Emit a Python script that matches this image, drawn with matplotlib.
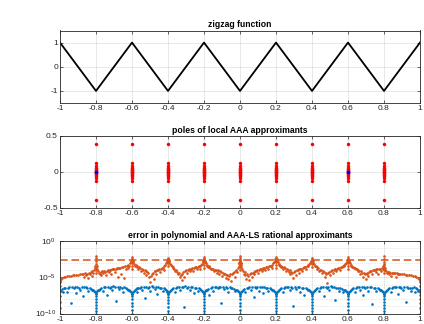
import numpy as np
import matplotlib
matplotlib.use("Agg")
import matplotlib.pyplot as plt
from matplotlib.ticker import NullFormatter

plt.rcParams['font.family'] = ['Liberation Sans', 'DejaVu Sans']
plt.rcParams['axes.unicode_minus'] = False
plt.rcParams['mathtext.default'] = 'regular'

# zigzag vertices
zig_x = [-1, -0.8, -0.6, -0.4, -0.2, 0, 0.2, 0.4, 0.6, 0.8, 1]
zig_y = [1, -1, 1, -1, 1, -1, 1, -1, 1, -1, 1]

# poles: kink locations and imaginary parts
kinks = [-0.8, -0.6, -0.4, -0.2, 0, 0.2, 0.4, 0.6, 0.8]
pole_imag = [0.39, 0.12, 0.085, 0.06, 0.04, 0.025, 0.012, 0.004,
             -0.004, -0.012, -0.025, -0.04, -0.06, -0.085, -0.12, -0.39]
real_pole_x = [-0.8, 0.6]
real_pole_y = [0, 0]

# polynomial error (log10), orange dots
poly_x = [
    -1.0, -1.0, -1.0, -1.0, -1.0, -1.0, -1.0, -0.998, -0.995, -0.99,
    -0.98, -0.97, -0.96, -0.95, -0.94, -0.93, -0.92, -0.91, -0.90, -0.89,
    -0.88, -0.87, -0.865, -0.86, -0.855, -0.85, -0.845, -0.84, -0.835, -0.83,
    -0.825, -0.82, -0.815, -0.81, -0.807, -0.804, -0.8, -0.8, -0.8, -0.8,
    -0.8, -0.8, -0.8, -0.796, -0.793, -0.79, -0.785, -0.78, -0.775, -0.77,
    -0.765, -0.76, -0.755, -0.75, -0.745, -0.74, -0.735, -0.73, -0.725, -0.72,
    -0.715, -0.71, -0.705, -0.70, -0.695, -0.69, -0.685, -0.68, -0.675, -0.67,
    -0.665, -0.66, -0.655, -0.65, -0.645, -0.64, -0.635, -0.63, -0.625, -0.62,
    -0.615, -0.612, -0.608, -0.605, -0.602, -0.6, -0.6, -0.6, -0.6, -0.6,
    -0.598, -0.595, -0.592, -0.588, -0.585, -0.58, -0.575, -0.57, -0.565, -0.56,
    -0.555, -0.55, -0.545, -0.54, -0.535, -0.53, -0.525, -0.52, -0.515, -0.51,
    -0.505, -0.50, -0.495, -0.49, -0.485, -0.48, -0.475, -0.47, -0.465, -0.46,
    -0.455, -0.45, -0.445, -0.44, -0.435, -0.43, -0.425, -0.42, -0.415, -0.41,
    -0.407, -0.404, -0.402, -0.4, -0.4, -0.4, -0.4, -0.398, -0.396, -0.393,
    -0.39, -0.385, -0.38, -0.375, -0.37, -0.365, -0.36, -0.355, -0.35, -0.345,
    -0.34, -0.335, -0.33, -0.325, -0.32, -0.315, -0.31, -0.305, -0.30, -0.295,
    -0.29, -0.285, -0.28, -0.275, -0.27, -0.265, -0.26, -0.255, -0.25, -0.245,
    -0.24, -0.235, -0.23, -0.225, -0.22, -0.215, -0.21, -0.207, -0.204, -0.202,
    -0.2, -0.2, -0.2, -0.2, -0.2, -0.198, -0.196, -0.193, -0.19, -0.186,
    -0.182, -0.178, -0.174, -0.17, -0.165, -0.16, -0.155, -0.15, -0.145, -0.14,
    -0.135, -0.13, -0.125, -0.12, -0.115, -0.11, -0.105, -0.10, -0.095, -0.09,
    -0.085, -0.08, -0.075, -0.07, -0.065, -0.06, -0.055, -0.05, -0.045, -0.04,
    -0.035, -0.03, -0.025, -0.02, -0.015, -0.01, -0.007, -0.004, -0.002, 0.0,
    0.0, 0.0, 0.0, 0.0, 0.0, -0.005, 0.005, -0.003, 0.003, 0.002,
    0.004, 0.007, 0.01, 0.015, 0.02, 0.025, 0.03, 0.035, 0.04, 0.045,
    0.05, 0.055, 0.06, 0.065, 0.07, 0.075, 0.08, 0.085, 0.09, 0.095,
    0.10, 0.105, 0.11, 0.115, 0.12, 0.125, 0.13, 0.135, 0.14, 0.145,
    0.15, 0.155, 0.16, 0.165, 0.17, 0.175, 0.18, 0.185, 0.19, 0.194,
    0.197, 0.2, 0.2, 0.2, 0.2, 0.2, 0.203, 0.206, 0.21, 0.214,
    0.218, 0.222, 0.226, 0.23, 0.235, 0.24, 0.245, 0.25, 0.255, 0.26,
    0.265, 0.27, 0.275, 0.28, 0.285, 0.29, 0.295, 0.30, 0.305, 0.31,
    0.315, 0.32, 0.325, 0.33, 0.335, 0.34, 0.345, 0.35, 0.355, 0.36,
    0.365, 0.37, 0.375, 0.38, 0.385, 0.39, 0.393, 0.396, 0.398, 0.4,
    0.4, 0.4, 0.4, 0.402, 0.404, 0.407, 0.41, 0.415, 0.42, 0.425,
    0.43, 0.435, 0.44, 0.445, 0.45, 0.455, 0.46, 0.465, 0.47, 0.475,
    0.48, 0.485, 0.49, 0.495, 0.50, 0.505, 0.51, 0.515, 0.52, 0.525,
    0.53, 0.535, 0.54, 0.545, 0.55, 0.555, 0.56, 0.565, 0.57, 0.575,
    0.58, 0.585, 0.59, 0.593, 0.596, 0.598, 0.6, 0.6, 0.6, 0.6,
    0.6, 0.602, 0.604, 0.607, 0.61, 0.614, 0.618, 0.623, 0.628, 0.633,
    0.638, 0.643, 0.648, 0.653, 0.658, 0.663, 0.668, 0.673, 0.678, 0.683,
    0.688, 0.693, 0.698, 0.703, 0.708, 0.713, 0.718, 0.723, 0.728, 0.733,
    0.738, 0.743, 0.748, 0.753, 0.758, 0.763, 0.768, 0.773, 0.778, 0.783,
    0.788, 0.792, 0.795, 0.798, 0.8, 0.8, 0.8, 0.8, 0.8, 0.8,
    0.8, 0.803, 0.806, 0.81, 0.815, 0.82, 0.825, 0.83, 0.835, 0.84,
    0.845, 0.85, 0.855, 0.86, 0.865, 0.87, 0.875, 0.88, 0.885, 0.89,
    0.90, 0.91, 0.92, 0.93, 0.94, 0.95, 0.96, 0.97, 0.98, 0.99,
    0.995, 0.998, 1.0, 1.0, 1.0, 1.0, 1.0, 1.0, 1.0, 1.0,
]
poly_lg = [
    -10, -9.2, -8.4, -7.6, -6.8, -6.2, -5.7, -5.45, -5.3, -5.15,
    -5.0, -4.95, -4.88, -4.82, -4.78, -4.74, -4.71, -4.68, -4.65, -4.62,
    -4.6, -4.55, -5.0, -4.45, -4.75, -4.5, -5.1, -4.35, -4.6, -4.25,
    -4.85, -4.15, -4.45, -3.95, -3.7, -3.4, -2.05, -2.4, -2.8, -3.2,
    -3.6, -4.0, -4.4, -3.5, -3.8, -4.1, -4.35, -4.6, -4.3, -4.75,
    -4.2, -4.45, -4.15, -4.25, -4.65, -4.1, -4.05, -4.3, -4.0, -3.95,
    -4.5, -3.9, -3.88, -3.85, -4.25, -3.8, -3.78, -3.75, -4.9, -3.7,
    -3.68, -4.6, -3.6, -3.55, -5.1, -3.5, -3.9, -3.4, -3.7, -3.25,
    -3.4, -3.1, -2.9, -2.7, -2.45, -2.2, -2.6, -3.0, -3.4, -3.8,
    -2.5, -2.7, -2.95, -3.15, -3.4, -3.3, -3.55, -3.5, -3.9, -3.65,
    -3.75, -4.2, -3.85, -3.95, -4.4, -4.05, -4.15, -4.7, -4.3, -4.45,
    -5.0, -5.6, -4.8, -4.55, -4.35, -5.2, -4.2, -4.1, -4.5, -4.0,
    -3.95, -3.9, -4.3, -3.8, -3.75, -3.7, -4.0, -3.5, -3.3, -3.1,
    -2.95, -2.75, -2.55, -2.3, -2.7, -3.1, -3.5, -2.55, -2.75, -2.95,
    -3.15, -3.35, -3.5, -3.7, -3.6, -3.85, -4.1, -3.95, -4.3, -4.6,
    -4.4, -5.0, -4.75, -5.4, -4.5, -4.3, -4.9, -4.15, -4.05, -4.4,
    -3.95, -3.9, -4.2, -3.85, -3.8, -3.75, -4.1, -3.7, -3.65, -3.6,
    -3.9, -3.55, -3.5, -3.45, -3.8, -3.3, -3.15, -2.9, -2.7, -2.45,
    -2.15, -2.55, -2.95, -3.35, -3.75, -2.45, -2.7, -2.9, -3.1, -3.3,
    -3.4, -3.55, -3.5, -3.65, -3.7, -3.85, -3.8, -3.9, -4.2, -3.95,
    -4.0, -4.4, -4.05, -4.1, -4.6, -4.2, -4.3, -4.8, -4.35, -4.5,
    -4.55, -5.1, -4.7, -4.75, -5.3, -4.85, -4.6, -5.5, -4.5, -4.4,
    -4.25, -4.9, -4.1, -3.95, -4.3, -3.7, -3.4, -3.0, -2.6, -2.05,
    -2.4, -2.8, -3.2, -3.6, -4.0, -3.1, -3.1, -3.1, -3.1, -2.6,
    -3.3, -3.6, -3.85, -4.1, -4.5, -4.3, -4.7, -5.2, -4.6, -4.8,
    -5.4, -4.6, -4.45, -5.0, -4.35, -4.25, -4.6, -4.15, -4.1, -4.05,
    -4.4, -3.95, -3.9, -3.85, -4.15, -3.8, -3.75, -3.7, -4.0, -3.6,
    -3.55, -3.85, -3.5, -3.45, -3.4, -3.7, -3.25, -3.1, -2.9, -2.7,
    -2.45, -2.15, -2.55, -2.95, -3.35, -3.75, -2.5, -2.75, -2.95, -3.2,
    -3.3, -3.45, -3.4, -3.55, -3.6, -3.9, -3.65, -3.75, -4.1, -3.85,
    -3.95, -4.3, -4.05, -4.6, -4.25, -4.4, -5.1, -4.3, -4.15, -4.7,
    -4.05, -4.0, -4.45, -3.9, -3.85, -3.8, -4.15, -3.7, -3.65, -3.6,
    -3.9, -3.5, -3.45, -3.35, -3.2, -3.05, -2.9, -2.75, -2.55, -2.35,
    -2.75, -3.15, -3.55, -2.6, -2.8, -3.0, -3.2, -3.4, -3.5, -3.65,
    -3.8, -3.75, -4.1, -3.95, -4.0, -4.4, -4.15, -4.25, -4.9, -4.35,
    -4.5, -5.8, -4.4, -4.3, -4.7, -4.1, -4.0, -4.45, -3.95, -3.9,
    -3.85, -4.2, -3.8, -3.75, -3.7, -4.05, -3.6, -3.55, -3.5, -3.4,
    -3.3, -3.15, -3.0, -2.85, -2.65, -2.45, -2.2, -2.6, -3.0, -3.4,
    -3.8, -2.5, -2.7, -2.9, -3.1, -3.3, -3.45, -3.6, -3.55, -3.7,
    -3.75, -3.9, -3.85, -4.2, -4.0, -4.1, -4.55, -4.2, -4.35, -5.0,
    -4.45, -4.6, -5.2, -4.5, -4.35, -4.8, -4.25, -4.15, -4.1, -4.5,
    -4.05, -4.0, -3.95, -4.3, -3.9, -3.85, -4.6, -3.8, -3.9, -4.2,
    -3.75, -3.9, -3.5, -3.2, -2.05, -2.45, -2.85, -3.25, -3.65, -4.05,
    -4.45, -3.7, -3.95, -4.2, -4.35, -4.25, -4.6, -4.3, -4.35, -4.8,
    -4.35, -4.4, -4.4, -4.45, -4.9, -4.45, -4.5, -4.5, -4.55, -4.55,
    -4.6, -4.62, -4.65, -4.7, -4.72, -4.75, -4.8, -4.88, -4.95, -5.1,
    -5.3, -5.45, -5.7, -6.2, -6.8, -7.4, -8.0, -8.6, -9.3, -10,
]
poly_max_lg = -2.65

# AAA-LS rational error (log10), blue dots
rat_x = [
    -0.995, -0.99, -0.985, -0.978, -0.97, -0.963, -0.955, -0.948, -0.94, -0.933,
    -0.925, -0.918, -0.91, -0.903, -0.895, -0.888, -0.88, -0.873, -0.865, -0.858,
    -0.85, -0.843, -0.835, -0.828, -0.82, -0.814, -0.809, -0.805, -0.802, -0.8,
    -0.8, -0.8, -0.8, -0.8, -0.8, -0.8, -0.798, -0.795, -0.79, -0.785,
    -0.778, -0.77, -0.763, -0.755, -0.748, -0.74, -0.733, -0.725, -0.718, -0.71,
    -0.703, -0.695, -0.688, -0.68, -0.673, -0.665, -0.658, -0.65, -0.643, -0.635,
    -0.628, -0.62, -0.614, -0.609, -0.605, -0.602, -0.6, -0.6, -0.6, -0.6,
    -0.6, -0.6, -0.598, -0.595, -0.59, -0.585, -0.58, -0.575, -0.57, -0.565,
    -0.558, -0.55, -0.543, -0.535, -0.528, -0.52, -0.513, -0.505, -0.498, -0.49,
    -0.483, -0.475, -0.468, -0.46, -0.453, -0.445, -0.438, -0.43, -0.423, -0.415,
    -0.41, -0.406, -0.403, -0.401, -0.4, -0.4, -0.4, -0.4, -0.4, -0.4,
    -0.398, -0.395, -0.39, -0.385, -0.378, -0.37, -0.363, -0.355, -0.348, -0.34,
    -0.333, -0.325, -0.318, -0.31, -0.303, -0.295, -0.288, -0.28, -0.273, -0.265,
    -0.258, -0.25, -0.243, -0.235, -0.228, -0.22, -0.214, -0.209, -0.205, -0.202,
    -0.2, -0.2, -0.2, -0.2, -0.2, -0.2, -0.2, -0.198, -0.195, -0.19,
    -0.185, -0.178, -0.17, -0.163, -0.155, -0.148, -0.14, -0.133, -0.125, -0.118,
    -0.11, -0.103, -0.095, -0.088, -0.08, -0.073, -0.065, -0.058, -0.05, -0.043,
    -0.035, -0.028, -0.02, -0.014, -0.009, -0.005, -0.002, 0.0, 0.0, 0.0,
    0.0, 0.0, 0.0, 0.002, 0.005, 0.01, 0.015, 0.022, 0.03, 0.037,
    0.045, 0.052, 0.06, 0.067, 0.075, 0.082, 0.09, 0.097, 0.105, 0.112,
    0.12, 0.127, 0.135, 0.142, 0.15, 0.157, 0.165, 0.172, 0.18, 0.186,
    0.191, 0.195, 0.198, 0.2, 0.2, 0.2, 0.2, 0.2, 0.2, 0.2,
    0.202, 0.205, 0.21, 0.215, 0.222, 0.23, 0.237, 0.245, 0.252, 0.26,
    0.267, 0.275, 0.282, 0.29, 0.297, 0.305, 0.312, 0.32, 0.327, 0.335,
    0.342, 0.35, 0.357, 0.365, 0.372, 0.38, 0.386, 0.391, 0.395, 0.398,
    0.4, 0.4, 0.4, 0.4, 0.4, 0.4, 0.4, 0.402, 0.405, 0.41,
    0.415, 0.422, 0.43, 0.437, 0.445, 0.452, 0.46, 0.467, 0.475, 0.482,
    0.49, 0.497, 0.505, 0.512, 0.52, 0.527, 0.535, 0.542, 0.55, 0.557,
    0.565, 0.572, 0.58, 0.586, 0.591, 0.595, 0.598, 0.6, 0.6, 0.6,
    0.6, 0.6, 0.6, 0.602, 0.605, 0.61, 0.615, 0.622, 0.63, 0.637,
    0.645, 0.652, 0.66, 0.667, 0.675, 0.682, 0.69, 0.697, 0.705, 0.712,
    0.72, 0.727, 0.735, 0.742, 0.75, 0.757, 0.765, 0.772, 0.78, 0.786,
    0.791, 0.795, 0.798, 0.8, 0.8, 0.8, 0.8, 0.8, 0.8, 0.8,
    0.802, 0.805, 0.81, 0.815, 0.822, 0.83, 0.837, 0.845, 0.852, 0.86,
    0.867, 0.875, 0.882, 0.89, 0.897, 0.905, 0.912, 0.92, 0.927, 0.935,
    0.942, 0.95, 0.957, 0.965, 0.972, 0.98, 0.985, 0.99, 0.995, 0.998,
]
rat_lg = [
    -6.9, -6.6, -7.0, -6.5, -6.45, -7.1, -6.5, -6.4, -8.6, -6.35,
    -6.55, -6.35, -7.2, -6.3, -6.45, -6.8, -6.3, -7.6, -6.4, -6.35,
    -6.5, -6.9, -6.45, -6.6, -6.7, -6.8, -6.9, -7.05, -7.3, -7.6,
    -8.0, -8.4, -8.8, -9.2, -9.6, -10, -7.2, -6.95, -6.8, -6.7,
    -6.6, -6.5, -6.95, -6.4, -6.35, -7.4, -6.3, -6.5, -6.3, -6.8,
    -6.25, -6.4, -8.3, -6.3, -6.6, -6.35, -6.45, -7.0, -6.4, -6.55,
    -6.6, -6.7, -6.8, -6.9, -7.05, -7.3, -7.6, -8.0, -8.5, -9.0,
    -9.5, -10, -7.25, -7.0, -6.85, -6.7, -6.65, -7.1, -6.55, -6.5,
    -6.45, -6.4, -6.8, -6.35, -7.9, -6.3, -6.5, -6.3, -6.9, -6.25,
    -6.35, -6.6, -6.3, -7.3, -6.4, -6.45, -6.5, -6.95, -6.55, -6.6,
    -6.75, -6.9, -7.1, -7.35, -7.7, -8.1, -8.6, -9.1, -9.6, -10,
    -7.3, -7.0, -6.85, -6.7, -6.6, -6.55, -7.0, -6.45, -6.4, -6.35,
    -6.8, -6.3, -6.4, -9.1, -6.25, -6.5, -6.3, -6.7, -6.35, -6.4,
    -7.2, -6.45, -6.5, -6.85, -6.55, -6.65, -6.75, -6.9, -7.05, -7.3,
    -7.6, -8.0, -8.4, -8.8, -9.2, -9.6, -10, -7.2, -6.95, -6.8,
    -6.7, -6.6, -7.5, -6.5, -6.4, -6.9, -6.35, -6.3, -6.55, -6.3,
    -6.4, -8.5, -6.3, -6.6, -6.35, -6.45, -7.0, -6.4, -6.5, -6.55,
    -6.6, -6.9, -6.7, -6.8, -6.9, -7.05, -7.3, -7.6, -8.0, -8.5,
    -9.0, -9.5, -10, -7.25, -7.0, -6.85, -6.7, -6.6, -7.1, -6.55,
    -6.45, -6.4, -6.8, -6.35, -7.7, -6.3, -6.45, -6.3, -6.9, -6.3,
    -6.35, -7.2, -6.4, -6.45, -6.5, -6.95, -6.55, -6.6, -6.7, -6.8,
    -6.9, -7.05, -7.3, -7.6, -8.0, -8.4, -8.8, -9.2, -9.6, -10,
    -7.25, -7.0, -6.85, -6.7, -6.6, -6.55, -7.1, -6.45, -6.4, -6.35,
    -6.3, -6.8, -6.3, -6.45, -8.9, -6.3, -6.6, -6.35, -6.4, -7.0,
    -6.45, -6.5, -7.4, -6.55, -6.6, -6.7, -6.8, -6.9, -7.05, -7.3,
    -7.6, -8.0, -8.4, -8.8, -9.2, -9.6, -10, -7.25, -7.0, -6.85,
    -6.7, -6.6, -6.55, -6.95, -6.45, -6.4, -6.35, -7.6, -6.3, -6.5,
    -6.3, -6.7, -6.25, -6.4, -6.35, -8.2, -6.45, -6.5, -6.85, -6.55,
    -6.6, -7.1, -6.7, -6.8, -6.9, -7.05, -7.3, -7.6, -8.0, -8.5,
    -9.0, -9.5, -10, -7.25, -7.0, -6.85, -6.7, -6.6, -6.55, -7.0,
    -6.45, -6.4, -6.35, -6.8, -6.3, -7.5, -6.3, -6.45, -6.3, -6.9,
    -6.35, -6.4, -8.7, -6.45, -6.5, -6.95, -6.55, -6.6, -6.7, -6.8,
    -6.9, -7.05, -7.3, -7.6, -8.0, -8.4, -8.8, -9.2, -9.6, -10,
    -7.25, -7.0, -6.85, -6.7, -6.6, -6.55, -7.0, -6.45, -6.4, -6.35,
    -6.3, -7.3, -6.4, -6.3, -6.45, -6.8, -6.35, -8.4, -6.4, -6.5,
    -6.45, -6.9, -6.5, -6.4, -7.1, -6.55, -6.6, -6.9, -6.7, -7.0,
]

xtick_vals = [-1, -0.8, -0.6, -0.4, -0.2, 0, 0.2, 0.4, 0.6, 0.8, 1]
xtick_labels = ['-1', '-0.8', '-0.6', '-0.4', '-0.2', '0', '0.2', '0.4', '0.6', '0.8', '1']

blue = '#0072BD'
orange = '#D95319'
dark = '#262626'


def style(ax):
    ax.set_xlim(-1, 1)
    ax.set_xticks(xtick_vals)
    ax.set_xticklabels(xtick_labels)
    ax.tick_params(direction='in', length=2.5, width=0.5, colors=dark,
                   labelsize=6, pad=1.5, top=True, right=True)
    ax.tick_params(which='minor', length=0)
    for s in ax.spines.values():
        s.set_linewidth(0.6)
        s.set_color(dark)
    ax.grid(True, color=dark, alpha=0.15, linewidth=0.5)
    ax.set_axisbelow(True)


fig = plt.figure(figsize=(4.24, 3.24), dpi=100)
W, H = 424.0, 324.0
ax1 = fig.add_axes([60 / W, 1 - 103 / H, 360 / W, 72.5 / H])
ax2 = fig.add_axes([60 / W, 1 - 208 / H, 360 / W, 72 / H])
ax3 = fig.add_axes([60 / W, 1 - 313.5 / H, 360 / W, 72.5 / H])

# top: zigzag
ax1.plot(zig_x, zig_y, color='k', lw=1.3)
ax1.set_ylim(-1.5, 1.5)
ax1.set_yticks([-1, 0, 1])
style(ax1)
ax1.set_title('zigzag function', fontsize=6.2, fontweight='bold', pad=2.5)

# middle: poles
px = np.repeat(kinks, len(pole_imag))
py = np.tile(pole_imag, len(kinks))
ax2.plot(px, py, 'o', color='r', ms=2.5, mew=0)
ax2.plot(real_pole_x, real_pole_y, 'o', color='b', ms=2.7, mew=0)
ax2.set_ylim(-0.5, 0.5)
ax2.set_yticks([-0.5, 0, 0.5])
ax2.set_yticklabels(['-0.5', '0', '0.5'])
style(ax2)
ax2.set_title('poles of local AAA approximants', fontsize=6.2, fontweight='bold', pad=2.5)

# bottom: errors
ax3.semilogy(rat_x, 10.0 ** np.array(rat_lg), 'o', color=blue, ms=1.9, mew=0)
ax3.semilogy(poly_x, 10.0 ** np.array(poly_lg), 'o', color=orange, ms=1.9, mew=0)
ax3.semilogy([-1, 1], [10 ** poly_max_lg] * 2, '--', color=orange, lw=1.1, dashes=(5, 2.5))
ax3.set_ylim(1e-10, 1)
ax3.set_yticks([1e-10, 1e-5, 1])
ax3.set_yticklabels(['$10^{-10}$', '$10^{-5}$', '$10^{0}$'])
ax3.set_yticks([10.0 ** k for k in range(-10, 1)], minor=True)
ax3.yaxis.set_minor_formatter(NullFormatter())
style(ax3)
ax3.tick_params(axis='y', pad=3)
ax3.grid(True, which='minor', axis='y', color=dark, alpha=0.2, linewidth=0.5, linestyle=':')
ax3.set_title('error in polynomial and AAA-LS rational approximants', fontsize=6.2,
              fontweight='bold', pad=2.5)

fig.savefig('out.png', dpi=100)
